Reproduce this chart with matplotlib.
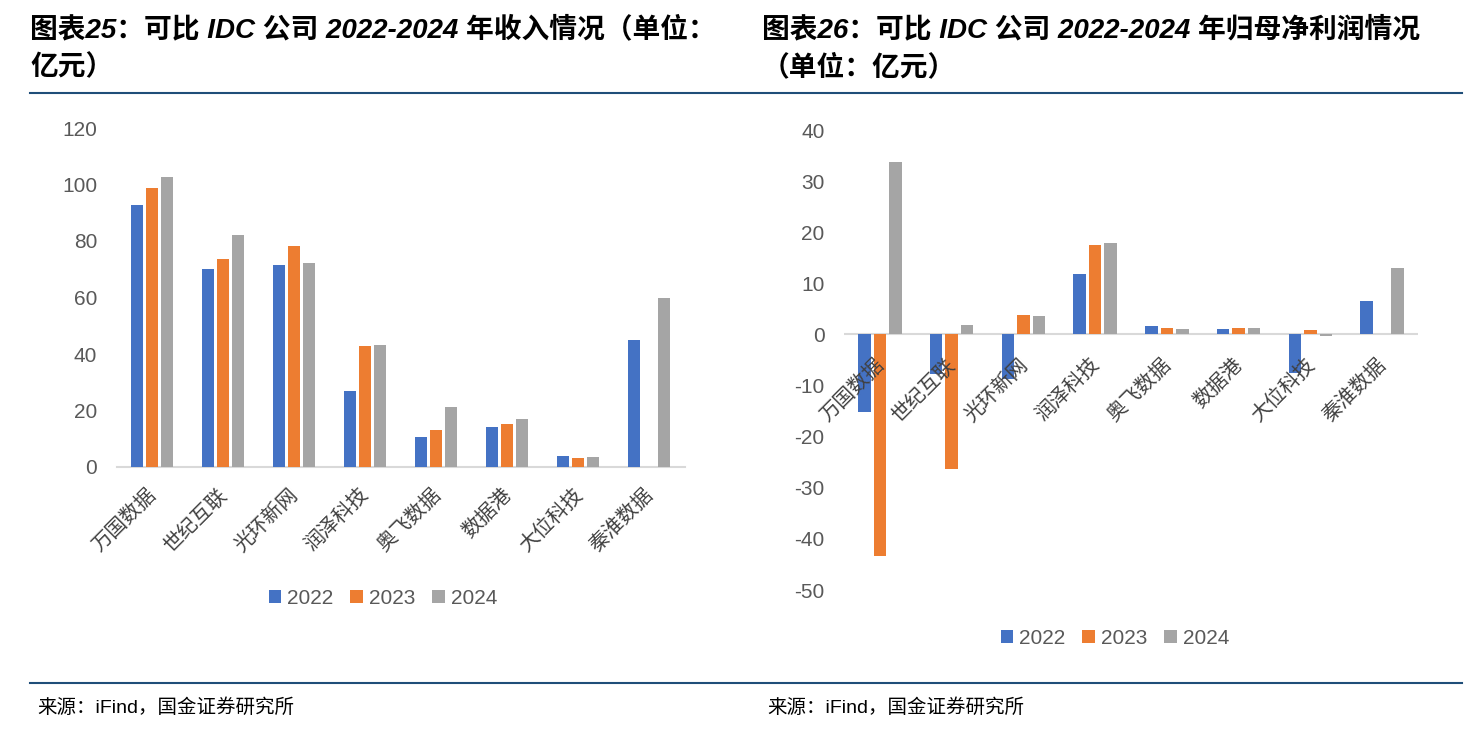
import numpy as np
import matplotlib.pyplot as plt
from matplotlib.patches import Patch
from matplotlib.lines import Line2D

plt.rcParams['font.family'] = ['Liberation Sans', 'Noto Sans CJK SC', 'DejaVu Sans']
plt.rcParams['axes.unicode_minus'] = False

companies = ['万国数据', '世纪互联', '光环新网', '润泽科技', '奥飞数据', '数据港', '大位科技', '秦淮数据']
years = ['2022', '2023', '2024']

# 收入（亿元）
rev_2022 = [92.7, 70.1, 71.4, 26.8, 10.7, 14.2, 3.9, 45.0]
rev_2023 = [98.9, 73.6, 78.1, 43.0, 13.0, 15.2, 3.3, np.nan]
rev_2024 = [102.6, 82.1, 72.3, 43.1, 21.3, 16.9, 3.6, 60.0]

# 归母净利润（亿元）
np_2022 = [-15.1, -7.8, -8.8, 11.9, 1.6, 1.0, -7.5, 6.5]
np_2023 = [-43.4, -26.4, 3.8, 17.5, 1.3, 1.2, 0.8, np.nan]
np_2024 = [33.7, 1.8, 3.6, 17.8, 1.1, 1.2, -0.3, 13.0]

colors = ['#4472C4', '#ED7D31', '#A5A5A5']
tick_color = '#595959'
rule_color = '#1F4E79'

W, H = 1477, 733
fig = plt.figure(figsize=(W / 100, H / 100), dpi=100)


def px_axes(x0, x1, ytop, ybot):
    return fig.add_axes([x0 / W, 1 - ybot / H, (x1 - x0) / W, (ybot - ytop) / H])


def draw_bars(ax, series):
    x = np.arange(len(companies))
    step, width = 0.215, 0.175
    for k, vals in enumerate(series):
        ax.bar(x + (k - 1) * step, vals, width=width, color=colors[k], zorder=3)
    ax.set_xlim(-0.5, len(companies) - 0.5)
    for s in ['top', 'right', 'left']:
        ax.spines[s].set_visible(False)
    ax.tick_params(axis='y', length=0, labelsize=15, colors=tick_color, pad=14)
    ax.set_xticks([])
    return x


def category_labels(ax, dy):
    for i, name in enumerate(companies):
        ax.annotate(name, (i, 0), xytext=(-4, dy), textcoords='offset points',
                    rotation=45, rotation_mode='anchor', ha='right', va='top',
                    fontsize=14.5, color='#404040', zorder=5)


# left chart
ax1 = px_axes(116.5, 684.5, 128, 467)
draw_bars(ax1, [rev_2022, rev_2023, rev_2024])
ax1.set_ylim(0, 120)
ax1.set_yticks(range(0, 121, 20))
ax1.spines['bottom'].set_color('#D9D9D9')
ax1.spines['bottom'].set_linewidth(1.5)
category_labels(ax1, -13)

# right chart
ax2 = px_axes(844, 1418, 130, 590)
draw_bars(ax2, [np_2022, np_2023, np_2024])
ax2.set_ylim(-50, 40)
ax2.set_yticks(range(-50, 41, 10))
ax2.spines['bottom'].set_visible(False)
ax2.axhline(0, color='#D9D9D9', lw=1.5, zorder=2)
category_labels(ax2, -15)

# legends
handles = [Patch(facecolor=c, edgecolor='none') for c in colors]
for cx, cy in [(383, 598), (1115, 638)]:
    fig.legend(handles, years, loc='center', bbox_to_anchor=(cx / W, 1 - cy / H),
               ncol=3, frameon=False, fontsize=15, handlelength=0.6, handleheight=0.6,
               handletextpad=0.3, columnspacing=0.8, labelcolor=tick_color)

# titles
title_kw = dict(fontsize=20, fontweight='bold', style='italic', color='black', va='center')
fig.text(30 / W, 1 - 30 / H, '图表25：可比 IDC 公司 2022-2024 年收入情况（单位：', **title_kw)
fig.text(30 / W, 1 - 68 / H, '亿元）', **title_kw)
fig.text(762 / W, 1 - 30 / H, '图表26：可比 IDC 公司 2022-2024 年归母净利润情况', **title_kw)
fig.text(762 / W, 1 - 68 / H, '（单位：亿元）', **title_kw)

# rules
for y in [93, 683]:
    fig.add_artist(Line2D([30 / W, 1462 / W], [1 - y / H, 1 - y / H], color=rule_color, lw=1.5))

# sources
src = '来源：iFind，国金证券研究所'
fig.text(37 / W, 1 - 708 / H, src, fontsize=14, va='center', color='black')
fig.text(767 / W, 1 - 708 / H, src, fontsize=14, va='center', color='black')

fig.savefig('out.png', dpi=100)
